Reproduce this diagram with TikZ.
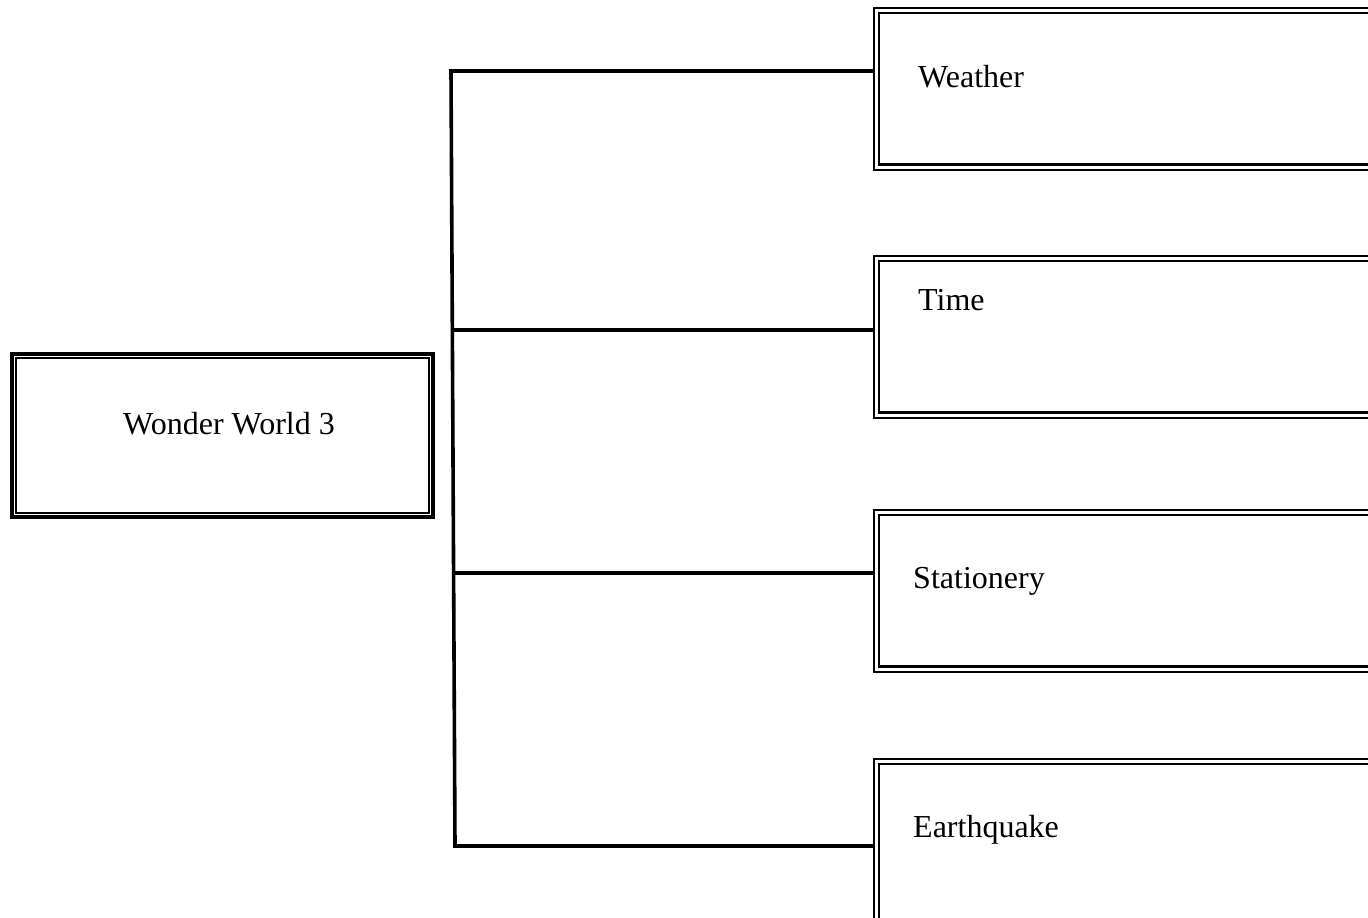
\documentclass[tikz,border=0pt]{standalone}
\usepackage{fontspec}
\setmainfont{Liberation Serif}
\begin{document}
\begin{tikzpicture}[x=1pt,y=-1pt,
  lbox/.style={draw=black,line width=4pt,rectangle,inner sep=0pt,anchor=north west},
  rbox/.style={draw=black,line width=1.8pt,rectangle,inner sep=0pt,anchor=north west},
  linner/.style={draw=black,line width=2pt},
  rinner/.style={draw=black,line width=2.8pt},
  conn/.style={draw=black,line width=3.6pt},
  lbl/.style={font=\fontsize{32}{38}\selectfont,inner sep=0pt,anchor=west}]
\useasboundingbox (0,0) rectangle (1368,918);
\clip (0,0) rectangle (1368,918);
\fill[white] (0,0) rectangle (1368,918);
% left box
\node[lbox,minimum width=421pt,minimum height=163pt] (ww) at (10,352) {};
\draw[linner] ([shift={(6,6)}]ww.north west) rectangle ([shift={(-6,-6)}]ww.south east);
\node[lbl,anchor=center] (wwt) at (229,424) {Wonder World 3};
% right boxes
\node[rbox,minimum width=600pt,minimum height=162pt] (weather) at (873,7) {};
\draw[rinner] ([shift={(6,6)}]weather.north west) rectangle ([shift={(-6,-6)}]weather.south east);
\node[lbl] (weathert) at (918,77) {Weather};
\node[rbox,minimum width=600pt,minimum height=162pt] (time) at (873,255) {};
\draw[rinner] ([shift={(6,6)}]time.north west) rectangle ([shift={(-6,-6)}]time.south east);
\node[lbl] (timet) at (918,300) {Time};
\node[rbox,minimum width=600pt,minimum height=162pt] (stat) at (873,509) {};
\draw[rinner] ([shift={(6,6)}]stat.north west) rectangle ([shift={(-6,-6)}]stat.south east);
\node[lbl] (statt) at (913,581) {Stationery};
\node[rbox,minimum width=600pt,minimum height=170pt] (earth) at (873,758) {};
\draw[rinner] ([shift={(6,6)}]earth.north west) rectangle ([shift={(-6,-6)}]earth.south east);
\node[lbl] (eartht) at (913,830) {Earthquake};
% connectors
\coordinate (j1) at (451,71);
\coordinate (j2) at (453,330);
\coordinate (j3) at (454,573);
\coordinate (j4) at (455,846);
\draw[conn,line join=miter] (j1 -| weather.west) -- (j1) -- (j4) -- (j4 -| earth.west);
\draw[conn] (j2) -- (j2 -| time.west);
\draw[conn] (j3) -- (j3 -| stat.west);
\end{tikzpicture}
\end{document}
